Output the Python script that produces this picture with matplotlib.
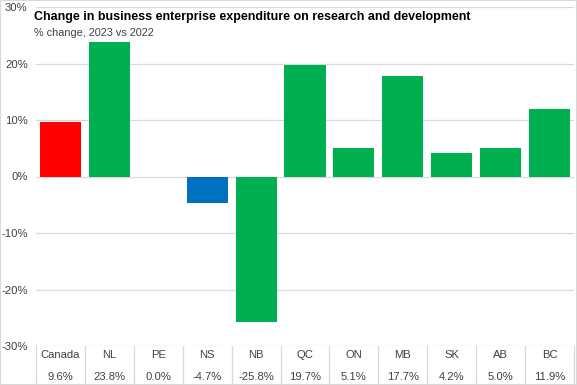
import matplotlib
matplotlib.use("Agg")
import matplotlib.pyplot as plt
from matplotlib import font_manager
from matplotlib.transforms import blended_transform_factory
from matplotlib.patches import Rectangle

categories = ["Canada", "NL", "PE", "NS", "NB", "QC", "ON", "MB", "SK", "AB", "BC"]
values = [9.6, 23.8, 0.0, -4.7, -25.8, 19.7, 5.1, 17.7, 4.2, 5.0, 11.9]
value_labels = ["9.6%", "23.8%", "0.0%", "-4.7%", "-25.8%", "19.7%", "5.1%", "17.7%", "4.2%", "5.0%", "11.9%"]
yticks = [-30, -20, -10, 0, 10, 20, 30]
ytick_labels = ["-30%", "-20%", "-10%", "0%", "10%", "20%", "30%"]

colors = []
for c, v in zip(categories, values):
    if c == "Canada":
        colors.append("#FF0000")
    elif v < 0 and v > -10:
        colors.append("#0070C0")
    else:
        colors.append("#00B050")

names = {f.name for f in font_manager.fontManager.ttflist}
narrow = "Liberation Sans Narrow" in names
fam = ['Liberation Sans Narrow', 'DejaVu Sans'] if narrow else ['Liberation Sans', 'DejaVu Sans']
scale = 1.0 if narrow else 0.85
plt.rcParams['font.family'] = fam

W, H = 577, 385
fig = plt.figure(figsize=(W/100, H/100), dpi=100)
fig.patches.append(Rectangle((0, 0), 1, 1, transform=fig.transFigure, fill=False,
                             edgecolor="#D9D9D9", linewidth=1.5))

left, right, top, bottom = 36, 574, 7, 346
ax = fig.add_axes([left/W, (H-bottom)/H, (right-left)/W, (bottom-top)/H])
x = list(range(len(categories)))
ax.bar(x, values, width=0.84, color=colors, zorder=3)
ax.set_xlim(-0.5, len(categories)-0.5)
ax.set_ylim(-30, 30)
ax.set_yticks(yticks)
ax.set_yticklabels(ytick_labels, fontsize=9.5*scale, color="#404040")
ax.set_xticks([])
for s in ax.spines.values():
    s.set_visible(False)
ax.tick_params(axis='y', length=0, pad=6)
ax.grid(axis='y', color="#D9D9D9", linewidth=0.9, zorder=0)

trans = blended_transform_factory(ax.transData, ax.transAxes)
ah = bottom - top
for i, (c, lab) in enumerate(zip(categories, value_labels)):
    ax.text(i, -(355 - bottom) / ah, c, transform=trans, ha='center', va='center',
            fontsize=9.5*scale, color="#404040", clip_on=False)
    ax.text(i, -(377 - bottom) / ah, lab, transform=trans, ha='center', va='center',
            fontsize=9.5*scale, color="#404040", clip_on=False)
for i in range(len(categories) + 1):
    ax.plot([i - 0.5, i - 0.5], [0, -(385 - bottom) / ah], transform=trans,
            color="#D9D9D9", linewidth=0.9, clip_on=False)

fig.text(34/W, 1 - 17/H, "Change in business enterprise expenditure on research and development",
         fontsize=10.6*scale, fontweight='bold', color="black", va='center', ha='left')
fig.text(34/W, 1 - 33/H, "% change, 2023 vs 2022", fontsize=9.2*scale, color="#404040",
         va='center', ha='left')

fig.savefig("out.png", dpi=100)
